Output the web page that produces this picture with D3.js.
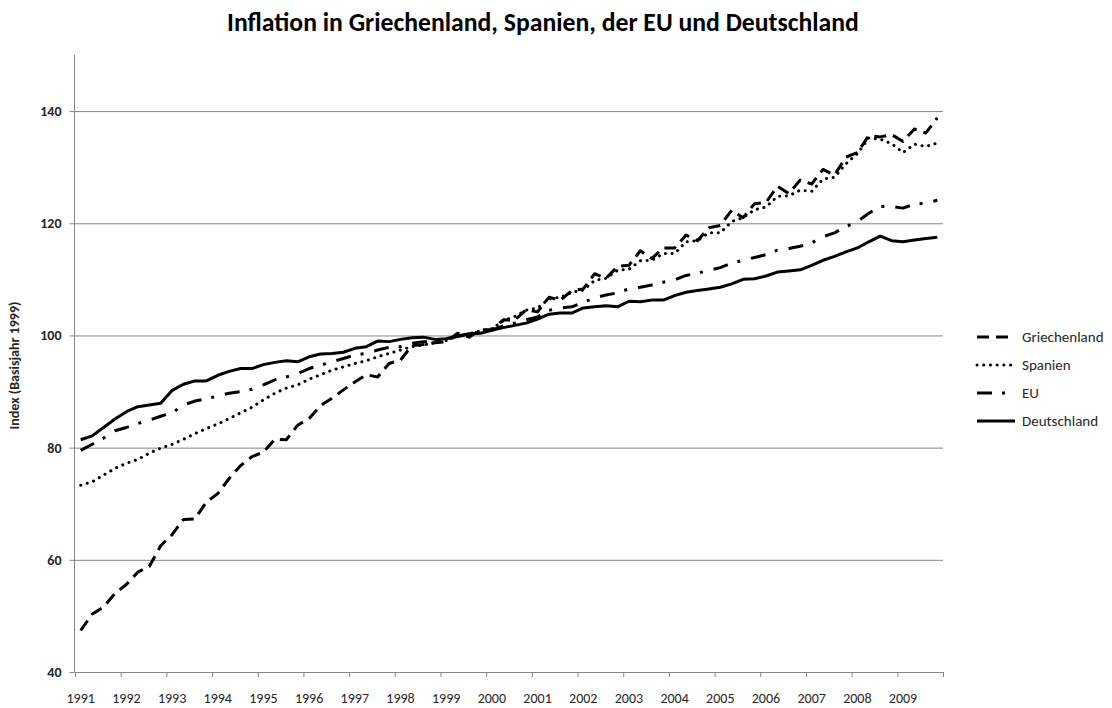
<!DOCTYPE html>
<html>
<head>
<meta charset="utf-8">
<script src="https://cdn.jsdelivr.net/npm/d3@7"></script>
<style>
  body { margin: 0; background: #fff; }
  svg { display: block; font-family: Calibri, Carlito, Lato, sans-serif; }
</style>
</head>
<body>
<svg id="chart" width="1112" height="708"></svg>
<script>
// years on the category axis (quarterly data, label on Q1)
const years = d3.range(1991, 2010);
const quarters = years.flatMap(y => [1, 2, 3, 4].map(q => y + "Q" + q));
const yTicks = [40, 60, 80, 100, 120, 140];

// index values, base year 1999 = 100, read per quarter
const griechenland = [
  47.4, 50.3, 51.6, 54.0,  55.6, 57.8, 58.8, 62.5,  64.5, 67.2, 67.3, 70.3,
  71.8, 74.5, 76.8, 78.4,  79.2, 81.5, 81.4, 84.0,  85.2, 87.5, 88.8, 90.3,
  91.7, 93.0, 92.6, 95.0,  95.6, 98.2, 98.4, 98.7,  98.9, 100.4, 99.7, 101.0,
  101.0, 102.8, 102.7, 104.6,  104.2, 106.8, 106.3, 108.0,  108.3, 111.0, 110.2, 112.3,
  112.5, 115.1, 113.7, 115.6,  115.6, 117.9, 116.9, 119.2,  119.6, 122.3, 121.0, 123.5,
  123.7, 126.6, 125.3, 127.7,  127.0, 129.6, 128.6, 131.8,  132.6, 135.6, 135.4, 135.8,
  134.6, 136.8, 136.1, 138.8
];
const spanien = [
  73.3, 73.9, 75.1, 76.3,  77.2, 77.9, 79.0, 79.9,  80.6, 81.5, 82.5, 83.4,
  84.2, 85.2, 86.2, 87.2,  88.5, 89.7, 90.6, 91.2,  92.2, 93.0, 93.8, 94.4,
  95.0, 95.5, 96.2, 96.8,  97.4, 98.0, 98.3, 98.7,  99.1, 99.9, 100.3, 100.8,
  101.2, 102.6, 103.4, 104.5,  104.9, 106.5, 106.8, 107.7,  108.1, 109.8, 110.2, 111.6,
  111.8, 113.3, 113.4, 114.6,  114.6, 116.7, 116.9, 118.3,  118.3, 120.3, 121.0, 122.4,
  122.9, 124.8, 124.9, 125.9,  125.7, 127.9, 128.2, 130.6,  132.4, 135.2, 135.0, 134.2,
  132.6, 134.1, 133.7, 134.3
];
const eu = [
  79.5, 80.6, 81.7, 83.0,  83.6, 84.3, 84.9, 85.6,  86.2, 87.6, 88.3, 88.7,
  89.2, 89.7, 90.0, 90.4,  91.2, 92.1, 92.6, 93.2,  94.1, 94.7, 95.3, 95.9,
  96.5, 96.8, 97.4, 97.9,  98.0, 98.6, 98.9, 98.9,  99.4, 99.8, 100.2, 100.6,
  101.0, 101.7, 102.2, 102.8,  103.3, 104.5, 104.9, 105.1,  105.9, 106.7, 107.2, 107.6,
  108.3, 108.6, 109.0, 109.5,  109.9, 110.7, 111.1, 111.6,  112.1, 112.9, 113.4, 113.9,
  114.4, 115.2, 115.5, 115.9,  116.5, 117.6, 118.3, 119.4,  120.3, 121.8, 123.0, 123.0,
  122.7, 123.4, 123.6, 124.1
];
const deutschland = [
  81.4, 82.1, 83.6, 85.1,  86.4, 87.3, 87.6, 87.9,  90.2, 91.3, 91.9, 91.9,
  92.9, 93.6, 94.1, 94.1,  94.8, 95.2, 95.5, 95.3,  96.2, 96.7, 96.8, 97.0,
  97.7, 98.0, 99.0, 98.9,  99.3, 99.6, 99.7, 99.3,  99.4, 99.9, 100.3, 100.4,
  100.9, 101.4, 101.8, 102.2,  102.9, 103.8, 104.0, 104.0,  104.9, 105.1, 105.3, 105.1,
  106.1, 106.0, 106.3, 106.3,  107.1, 107.7, 108.0, 108.3,  108.6, 109.2, 110.0, 110.1,
  110.6, 111.3, 111.5, 111.7,  112.5, 113.4, 114.1, 114.9,  115.6, 116.7, 117.7, 116.9,
  116.7, 117.0, 117.3, 117.5
];

const series = [
  { name: "Griechenland", values: griechenland, dash: "12,7", cap: "butt" },
  { name: "Spanien", values: spanien, dash: "0.1,6.6", cap: "round" },
  { name: "EU", values: eu, dash: "15,10,3,11", cap: "butt" },
  { name: "Deutschland", values: deutschland, dash: null, cap: "butt" }
];

const svg = d3.select("#chart");
const plotLeft = 75, plotRight = 943, plotTop = 55, plotBottom = 672;
const axisColor = "#868686";
const textColor = "#262626";

const x = d3.scaleBand().domain(quarters).range([plotLeft, plotRight]).padding(0);
const y = d3.scaleLinear().domain([40, 150]).range([plotBottom, plotTop]);

// title, sized to the width it has in the original
const title = svg.append("text")
  .attr("x", 543).attr("y", 31)
  .attr("text-anchor", "middle")
  .attr("font-size", 24).attr("font-weight", "bold")
  .attr("fill", "#000")
  .text("Inflation in Griechenland, Spanien, der EU und Deutschland");
const tw = title.node().getComputedTextLength();
title.attr("font-size", 24 * 632 / tw);

// gridlines
svg.append("g").selectAll("line")
  .data(yTicks.filter(d => d > 40))
  .join("line")
  .attr("x1", plotLeft).attr("x2", plotRight)
  .attr("y1", d => y(d) + 0.5).attr("y2", d => y(d) + 0.5)
  .attr("stroke", axisColor).attr("stroke-width", 1);

// y axis
const yAxis = svg.append("g").attr("transform", `translate(${plotLeft - 0.5},0)`)
  .call(d3.axisLeft(y).tickValues(yTicks).tickSize(5).tickPadding(8));
yAxis.select(".domain").attr("stroke", axisColor).attr("d", `M0,${plotTop}V${plotBottom}`);
yAxis.selectAll(".tick line").attr("stroke", axisColor);
yAxis.selectAll(".tick text")
  .attr("font-size", 14).attr("font-weight", "bold").attr("fill", textColor)
  .attr("font-family", "Calibri, Carlito, Lato, sans-serif");

svg.append("text")
  .attr("transform", `translate(19,${(plotTop + plotBottom) / 2 + 2}) rotate(-90)`)
  .attr("text-anchor", "middle")
  .attr("font-size", 14).attr("font-weight", "bold").attr("fill", textColor)
  .text("Index (Basisjahr 1999)");

// x axis: tick marks between years, label on the first quarter
const xg = svg.append("g");
xg.append("line")
  .attr("x1", plotLeft).attr("x2", plotRight)
  .attr("y1", plotBottom + 0.5).attr("y2", plotBottom + 0.5)
  .attr("stroke", axisColor);
xg.selectAll("line.tick")
  .data(d3.range(0, quarters.length + 1, 4))
  .join("line").attr("class", "tick")
  .attr("x1", i => (i < quarters.length ? x(quarters[i]) : plotRight) + 0.5)
  .attr("x2", i => (i < quarters.length ? x(quarters[i]) : plotRight) + 0.5)
  .attr("y1", plotBottom).attr("y2", plotBottom + 5)
  .attr("stroke", axisColor);
xg.selectAll("text")
  .data(years)
  .join("text")
  .attr("x", d => x(d + "Q1") + x.bandwidth() / 2)
  .attr("y", plotBottom + 31)
  .attr("text-anchor", "middle")
  .attr("font-size", 14).attr("fill", textColor)
  .text(d => d);

// lines
const line = d3.line()
  .x((d, i) => x(quarters[i]) + x.bandwidth() / 2)
  .y(d => y(d));

svg.append("g").selectAll("path")
  .data(series)
  .join("path")
  .attr("d", d => line(d.values))
  .attr("fill", "none")
  .attr("stroke", "#000")
  .attr("stroke-width", 3)
  .attr("stroke-linejoin", "round")
  .attr("stroke-linecap", d => d.cap)
  .attr("stroke-dasharray", d => d.dash);

// legend
const legend = svg.append("g").selectAll("g")
  .data(series)
  .join("g")
  .attr("transform", (d, i) => `translate(977,${337 + i * 28})`);
legend.append("line")
  .attr("x1", 0).attr("x2", 38)
  .attr("stroke", "#000").attr("stroke-width", 3)
  .attr("stroke-linecap", d => d.cap)
  .attr("stroke-dasharray", d => d.dash);
legend.append("text")
  .attr("x", 45).attr("dy", "0.35em")
  .attr("font-size", 15).attr("fill", textColor)
  .text(d => d.name);
</script>
</body>
</html>
